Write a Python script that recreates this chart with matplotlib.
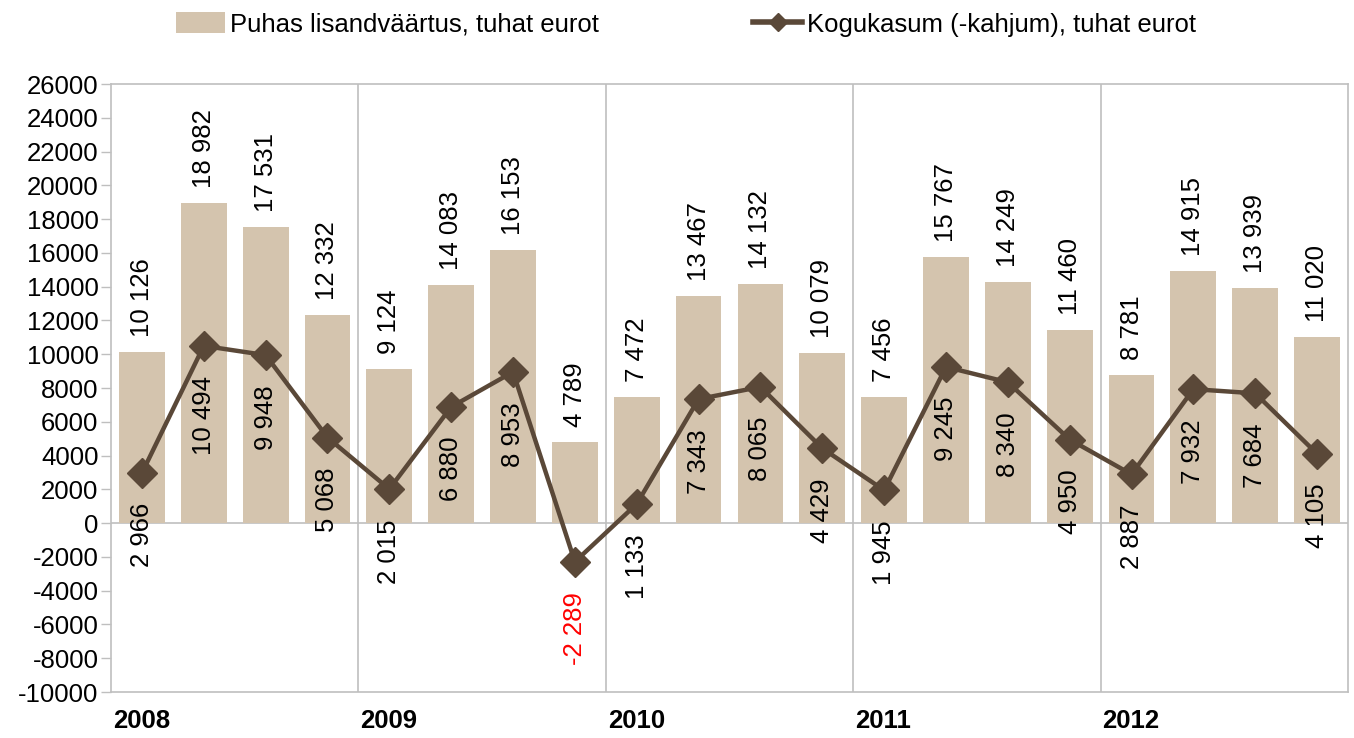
import matplotlib
matplotlib.use("Agg")
import matplotlib.pyplot as plt
from matplotlib.lines import Line2D
from matplotlib.patches import Patch
import numpy as np

years = ["2008", "2009", "2010", "2011", "2012"]
value_added = [10126, 18982, 17531, 12332,
               9124, 14083, 16153, 4789,
               7472, 13467, 14132, 10079,
               7456, 15767, 14249, 11460,
               8781, 14915, 13939, 11020]
profit = [2966, 10494, 9948, 5068,
          2015, 6880, 8953, -2289,
          1133, 7343, 8065, 4429,
          1945, 9245, 8340, 4950,
          2887, 7932, 7684, 4105]
bar_label = "Puhas lisandväärtus, tuhat eurot"
line_label = "Kogukasum (-kahjum), tuhat eurot"

bar_color = "#D4C4AE"
line_color = "#5A4838"
grid_color = "#BFBFBF"

plt.rcParams['font.family'] = ['Liberation Sans', 'DejaVu Sans']
plt.rcParams['axes.unicode_minus'] = False
FS = 18.5

fig = plt.figure(figsize=(13.54, 7.38), dpi=100)
ax = fig.add_axes([111/1354, 1-692/738, (1348-111)/1354, (692-84)/738])

x = np.arange(len(value_added))
ax.bar(x, value_added, width=0.74, color=bar_color, zorder=2)
ax.plot(x, profit, color=line_color, lw=3.2, marker='D', ms=15, zorder=3)

ax.set_xlim(-0.5, len(x) - 0.5)
ax.set_ylim(-10000, 26000)
ax.set_yticks(np.arange(-10000, 26001, 2000))
ax.tick_params(axis='y', labelsize=FS, length=7, color=grid_color, width=1, pad=2)
ax.set_xticks([])
for s in ax.spines.values():
    s.set_color(grid_color)
    s.set_linewidth(1.2)
ax.axhline(0, color=grid_color, lw=1.2, zorder=1)
for b in range(4, len(x), 4):
    ax.axvline(b - 0.5, color=grid_color, lw=1.2, zorder=1)

def fmt(v):
    s = f"{abs(v):,}".replace(",", " ")
    return ("-" if v < 0 else "") + s

for xi, v in zip(x, value_added):
    ax.annotate(fmt(v), (xi, v), xytext=(0, 15), textcoords='offset pixels',
                rotation=90, ha='center', va='bottom', fontsize=FS, zorder=4)
for xi, v in zip(x, profit):
    ax.annotate(fmt(v), (xi, v), xytext=(0, -30), textcoords='offset pixels',
                rotation=90, ha='center', va='top', fontsize=FS,
                color='red' if v < 0 else 'black', zorder=4)

for i, yr in enumerate(years):
    ax.text(i * 4 - 0.5 + 0.03, -(721 - 692) / 608, yr, transform=ax.get_xaxis_transform(),
            ha='left', va='center', fontsize=FS, fontweight='bold')

handles = [Patch(facecolor=bar_color, edgecolor='none'),
           Line2D([0], [0], color=line_color, lw=4, marker='D', ms=9)]
fig.legend(handles, [bar_label, line_label], loc='upper center', ncol=2,
           bbox_to_anchor=(0.507, 1.008), frameon=False,
           fontsize=FS, handlelength=1.9, handleheight=0.9, handletextpad=0.2,
           columnspacing=6.0, borderaxespad=0.3)

fig.savefig("out.png", dpi=100)
